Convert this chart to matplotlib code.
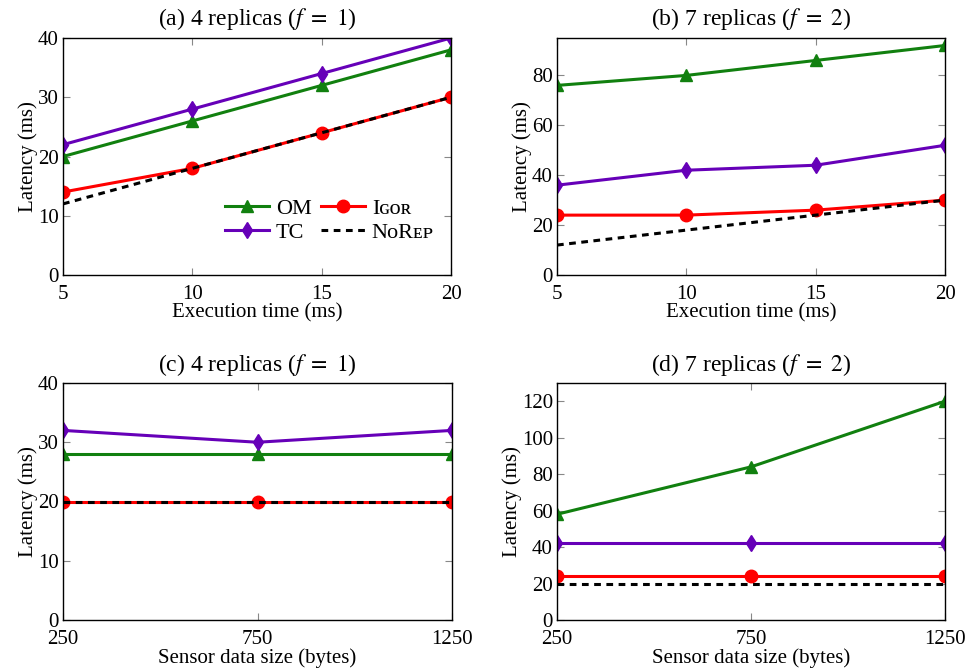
import matplotlib
matplotlib.use('Agg')
import matplotlib.pyplot as plt

plt.rcParams['font.family'] = ['Liberation Serif', 'DejaVu Serif']
plt.rcParams['mathtext.fontset'] = 'stix'

exec_time = [5, 10, 15, 20]
data_size = [250, 750, 1250]

# (a) 4 replicas, execution time
a_om = [20, 26, 32, 38]
a_tc = [22, 28, 34, 40]
a_igor = [14, 18, 24, 30]
a_norep = [12, 18, 24, 30]

# (b) 7 replicas, execution time
b_om = [76, 80, 86, 92]
b_tc = [36, 42, 44, 52]
b_igor = [24, 24, 26, 30]
b_norep = [12, 18, 24, 30]

# (c) 4 replicas, sensor data size
c_om = [28, 28, 28]
c_tc = [32, 30, 32]
c_igor = [20, 20, 20]
c_norep = [20, 20, 20]

# (d) 7 replicas, sensor data size
d_om = [58, 84, 120]
d_tc = [42, 42, 42]
d_igor = [24, 24, 24]
d_norep = [20, 20, 20]

GREEN = '#11800f'
PURPLE = '#6600b8'
RED = '#ff0000'

W, H = 971, 670


def box(l, t, r, b):
    return [l / W, 1 - b / H, (r - l) / W, (b - t) / H]


def panel(ax, x, om, tc, igor, norep, title, xlabel, ylim, yticks):
    ax.plot(x, om, color=GREEN, lw=2.2, marker='^', ms=9, label='OM')
    ax.plot(x, tc, color=PURPLE, lw=2.2, marker='d', ms=8.5, label='TC')
    ax.plot(x, igor, color=RED, lw=2.2, marker='o', ms=9, label='I\u0262\u1d0f\u0280')
    ax.plot(x, norep, color='black', lw=2.2, ls=(0, (2.2, 1.8)), label='N\u1d0fR\u1d07\u1d18')
    ax.set_xlim(x[0], x[-1])
    ax.set_xticks(x)
    ax.set_ylim(*ylim)
    ax.set_yticks(yticks)
    ax.set_title(title, fontsize=17, pad=9)
    ax.set_xlabel(xlabel, fontsize=15, labelpad=0)
    ax.set_ylabel('Latency (ms)', fontsize=15, labelpad=0)
    ax.tick_params(direction='in', top=True, right=True, length=5, width=0.8,
                   color='#888888', labelsize=15)
    ax.tick_params(axis='x', pad=7)
    ax.tick_params(axis='y', pad=3)
    for s in ax.spines.values():
        s.set_linewidth(1.0)


fig = plt.figure(figsize=(W / 100, H / 100), dpi=100)

ax_a = fig.add_axes(box(63, 38, 451, 275))
ax_b = fig.add_axes(box(557, 38, 945, 275))
ax_c = fig.add_axes(box(63, 383, 452, 620))
ax_d = fig.add_axes(box(557, 383, 945, 620))

panel(ax_a, exec_time, a_om, a_tc, a_igor, a_norep,
      r'(a) 4 replicas ($f\ =\ 1$)', 'Execution time (ms)', (0, 40), [0, 10, 20, 30, 40])
panel(ax_b, exec_time, b_om, b_tc, b_igor, b_norep,
      r'(b) 7 replicas ($f\ =\ 2$)', 'Execution time (ms)', (0, 95), [0, 20, 40, 60, 80])
panel(ax_c, data_size, c_om, c_tc, c_igor, c_norep,
      r'(c) 4 replicas ($f\ =\ 1$)', 'Sensor data size (bytes)', (0, 40), [0, 10, 20, 30, 40])
panel(ax_d, data_size, d_om, d_tc, d_igor, d_norep,
      r'(d) 7 replicas ($f\ =\ 2$)', 'Sensor data size (bytes)', (0, 130), [0, 20, 40, 60, 80, 100, 120])

ax_a.legend(ncol=2, loc='lower right', bbox_to_anchor=(0.99, 0.08), frameon=False,
            fontsize=16, handlelength=2.0, handletextpad=0.3, columnspacing=0.4,
            labelspacing=0.15, borderaxespad=0.2)

fig.savefig('out.png', dpi=100)
